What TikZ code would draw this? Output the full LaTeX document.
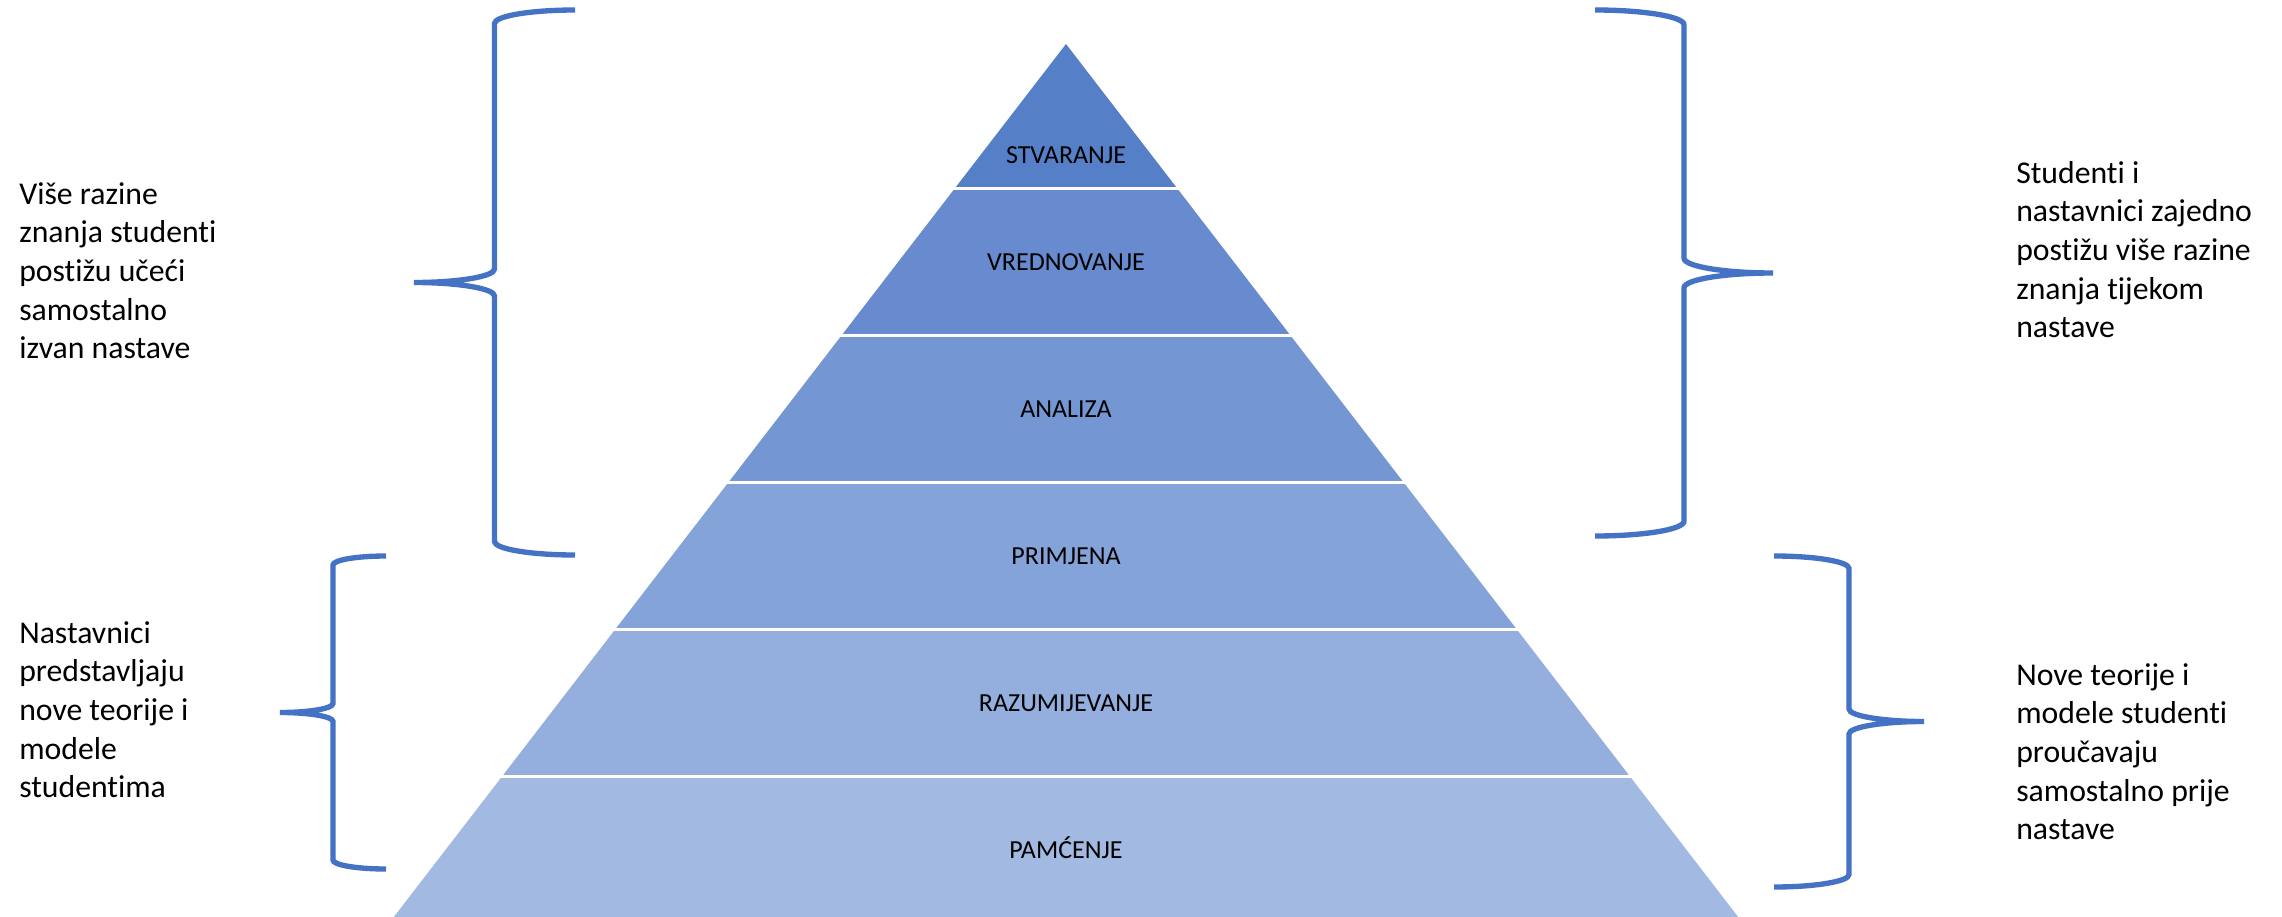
\documentclass[tikz,border=0pt]{standalone}
\usepackage{fontspec}
\setmainfont{Carlito}[Ligatures=NoCommon,Contextuals=NoAlternate]
\definecolor{bandA}{RGB}{85,128,200}
\definecolor{bandB}{RGB}{103,139,206}
\definecolor{bandC}{RGB}{116,151,211}
\definecolor{bandD}{RGB}{132,163,216}
\definecolor{bandE}{RGB}{148,175,221}
\definecolor{bandF}{RGB}{162,185,225}
\definecolor{bracecol}{RGB}{68,114,196}
% left-pointing brace: tip x, end x, top y, tip y, bottom y, curl height
\newcommand\mybraceleft[6]{%
  \draw[bracestyle] (#2,#3) .. controls ({#2-0.2762*(#2-#1)},#3) and ({(#1+#2)/2},{#3+0.4477*#6}) .. ({(#1+#2)/2},{#3+#6})
   -- ({(#1+#2)/2},{#4-#6}) .. controls ({(#1+#2)/2},{#4-0.4477*#6}) and ({#1+0.2762*(#2-#1)},#4) .. (#1,#4)
   .. controls ({#1+0.2762*(#2-#1)},#4) and ({(#1+#2)/2},{#4+0.4477*#6}) .. ({(#1+#2)/2},{#4+#6})
   -- ({(#1+#2)/2},{#5-#6}) .. controls ({(#1+#2)/2},{#5-0.4477*#6}) and ({#2-0.2762*(#2-#1)},#5) .. (#2,#5);}
% right-pointing brace: end x, tip x, top y, tip y, bottom y, curl height
\newcommand\mybraceright[6]{%
  \draw[bracestyle] (#1,#3) .. controls ({#1+0.2762*(#2-#1)},#3) and ({(#1+#2)/2},{#3+0.4477*#6}) .. ({(#1+#2)/2},{#3+#6})
   -- ({(#1+#2)/2},{#4-#6}) .. controls ({(#1+#2)/2},{#4-0.4477*#6}) and ({#2-0.2762*(#2-#1)},#4) .. (#2,#4)
   .. controls ({#2-0.2762*(#2-#1)},#4) and ({(#1+#2)/2},{#4+0.4477*#6}) .. ({(#1+#2)/2},{#4+#6})
   -- ({(#1+#2)/2},{#5-#6}) .. controls ({(#1+#2)/2},{#5-0.4477*#6}) and ({#1+0.2762*(#2-#1)},#5) .. (#1,#5);}
\begin{document}
\begin{tikzpicture}[x=0.75pt,y=-0.75pt,
  bracestyle/.style={draw=bracecol,line width=4pt},
  sep/.style={draw=white,line width=2.25pt},
  bandlabel/.style={anchor=base,inner sep=0pt,font=\fontsize{19.5}{23}\selectfont},
  sidetext/.style={anchor=north west,inner sep=0pt,align=left,font=\fontsize{23.8}{29}\selectfont}]
\useasboundingbox (0,0) rectangle (2282,917);
\fill[white] (0,0) rectangle (2282,917);
% pyramid bands
\fill[bandA] (1066,44) -- (1176.9,188) -- (955.1,188) -- cycle;
\fill[bandB] (955.1,188) -- (1176.9,188) -- (1290.1,335) -- (841.9,335) -- cycle;
\fill[bandC] (841.9,335) -- (1290.1,335) -- (1403.3,482) -- (728.7,482) -- cycle;
\fill[bandD] (728.7,482) -- (1403.3,482) -- (1516.5,629) -- (615.5,629) -- cycle;
\fill[bandE] (615.5,629) -- (1516.5,629) -- (1629.6,776) -- (502.4,776) -- cycle;
\fill[bandF] (502.4,776) -- (1629.6,776) -- (1738.2,917) -- (393.8,917) -- cycle;
\draw[sep] (940,188) -- (1192,188);
\draw[sep] (826,335) -- (1306,335);
\draw[sep] (713,482) -- (1419,482);
\draw[sep] (600,629) -- (1532,629);
\draw[sep] (487,776) -- (1645,776);
% band labels
\node[bandlabel] (stv) at (1066,163) {STVARANJE};
\node[bandlabel] (vre) at (1066,270) {VREDNOVANJE};
\node[bandlabel] (ana) at (1066,417) {ANALIZA};
\node[bandlabel] (pri) at (1066,564) {PRIMJENA};
\node[bandlabel] (raz) at (1066,711) {RAZUMIJEVANJE};
\node[bandlabel] (pam) at (1066,858) {PAMĆENJE};
% braces
\mybraceleft{414}{575}{10}{282.5}{555}{13.5}
\mybraceleft{280}{386}{556}{712.5}{869}{9}
\mybraceright{1595}{1773}{10}{273}{536}{14.8}
\mybraceright{1774}{1924}{556}{721.5}{887}{12.5}
% side texts
\node[sidetext] (tl) at (19,182) {Više razine\\znanja studenti\\postižu učeći\\samostalno\\izvan nastave};
\node[sidetext] (bl) at (19,621) {Nastavnici\\predstavljaju\\nove teorije i\\modele\\studentima};
\node[sidetext] (tr) at (2016,161) {Studenti i\\nastavnici zajedno\\postižu više razine\\znanja tijekom\\nastave};
\node[sidetext] (br) at (2016,663) {Nove teorije i\\modele studenti\\proučavaju\\samostalno prije\\nastave};
\end{tikzpicture}
\end{document}
